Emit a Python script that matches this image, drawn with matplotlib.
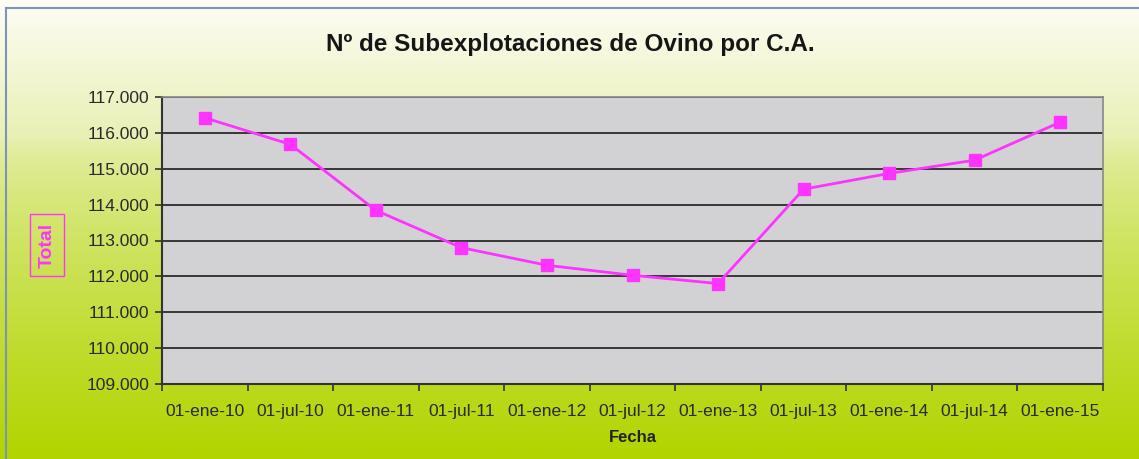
import numpy as np
import matplotlib.pyplot as plt
from matplotlib.lines import Line2D

plt.rcParams["font.family"] = ["Liberation Sans", "DejaVu Sans"]

# Data
fechas = ["01-ene-10", "01-jul-10", "01-ene-11", "01-jul-11", "01-ene-12", "01-jul-12",
          "01-ene-13", "01-jul-13", "01-ene-14", "01-jul-14", "01-ene-15"]
total = [116.42, 115.68, 113.84, 112.80, 112.31, 112.03, 111.80, 114.43, 114.87, 115.24, 116.30]
y_ticks = [109, 110, 111, 112, 113, 114, 115, 116, 117]
y_labels = ["109.000", "110.000", "111.000", "112.000", "113.000", "114.000",
            "115.000", "116.000", "117.000"]

fig = plt.figure(figsize=(11.39, 4.59), dpi=100)

# background gradient (pale top -> yellow-green bottom)
bg = fig.add_axes([0, 0, 1, 1], zorder=-10)
top = np.array([253, 253, 245]) / 255
mid = np.array([232, 240, 180]) / 255
bot = np.array([178, 213, 0]) / 255
cols = np.zeros((256, 1, 3))
for i, v in enumerate(np.linspace(0, 1, 256)):
    if v < 0.3:
        c = top + (mid - top) * (v / 0.3)
    else:
        c = mid + (bot - mid) * ((v - 0.3) / 0.7) ** 0.7
    cols[i, 0] = c
bg.imshow(cols, aspect="auto", extent=[0, 1, 0, 1], origin="upper")
bg.set_xlim(0, 1)
bg.set_ylim(0, 1)
bg.axis("off")
# frame lines left/top
fig.add_artist(Line2D([6 / 1139, 6 / 1139], [0, 1 - 8 / 459], transform=fig.transFigure,
                      color="#7f93b8", lw=1.5))
fig.add_artist(Line2D([6 / 1139, 1], [1 - 8 / 459, 1 - 8 / 459], transform=fig.transFigure,
                      color="#7f93b8", lw=1.5))

ax = fig.add_axes([162 / 1139, 1 - 384 / 459, (1103 - 162) / 1139, (384 - 97) / 459])
ax.set_facecolor("#d2d2d4")
x = np.arange(len(fechas))
ax.plot(x, total, color="#ff33ff", lw=2, marker="s", markersize=8,
        markerfacecolor="#ff33ff", markeredgecolor="#ff33ff", zorder=3)

ax.set_xlim(-0.5, len(fechas) - 0.5)
ax.set_ylim(109, 117)
ax.set_yticks(y_ticks)
ax.set_yticklabels(y_labels)
ax.yaxis.grid(True, color="#2b2b2b", lw=1.3)
ax.set_axisbelow(True)

ax.set_xticks(np.arange(-0.5, len(fechas), 1.0))
ax.set_xticklabels([])
ax.set_xticks(x, minor=True)
ax.set_xticklabels(fechas, minor=True)
ax.tick_params(axis="x", which="minor", length=0, pad=23, labelsize=12.5, labelcolor="#2a2a2a")
ax.tick_params(axis="x", which="major", length=5, width=1.2, color="#333333")
ax.tick_params(axis="y", length=5, width=1.2, color="#333333", labelsize=12.5,
               labelcolor="#2a2a2a", pad=4)
for lab in ax.get_xticklabels(minor=True):
    lab.set_va("baseline")

for side in ["left", "bottom"]:
    ax.spines[side].set_color("#333333")
    ax.spines[side].set_linewidth(1.5)
for side in ["right", "top"]:
    ax.spines[side].set_color("#888888")
    ax.spines[side].set_linewidth(1.2)

ax.set_xlabel("Fecha", fontsize=12, fontweight="bold", color="#222222", labelpad=8)
fig.text(47 / 1139, 1 - 245 / 459, "Total", rotation=90, ha="center", va="center",
         fontsize=14, fontweight="bold", color="#ff33ff",
         bbox=dict(facecolor="none", edgecolor="#ff33ff", lw=1, pad=6))

fig.text(570 / 1139, 1 - 44 / 459, "Nº de Subexplotaciones de Ovino por C.A.", ha="center",
         va="center", fontsize=17.5, fontweight="bold", color="#161616")

fig.savefig("out.png", dpi=100)
